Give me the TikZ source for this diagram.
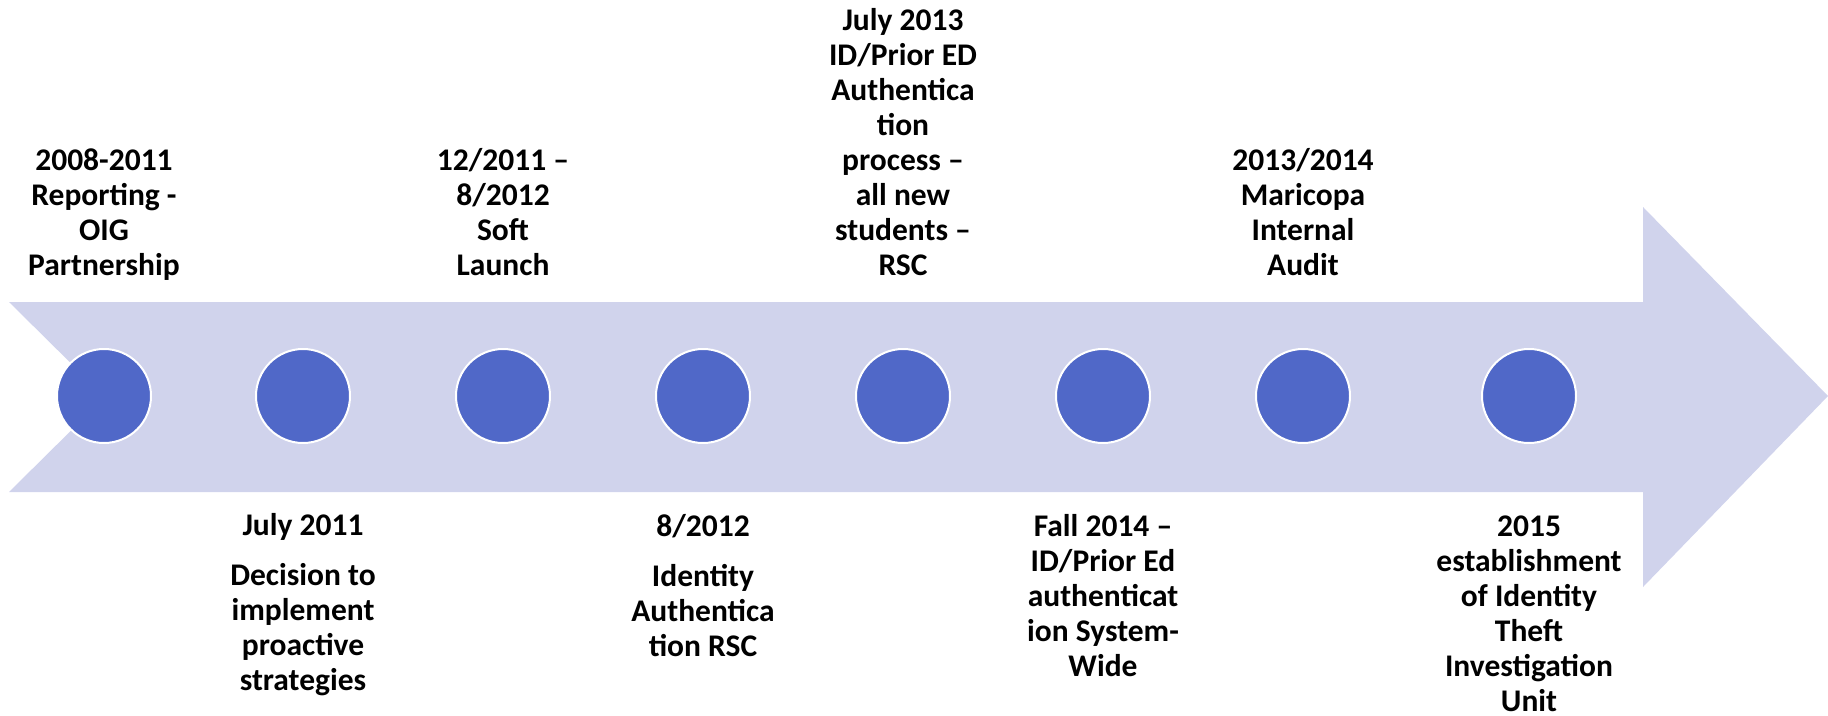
\documentclass[tikz,border=0pt]{standalone}
\usepackage{fontspec}
\setmainfont{Carlito}
\definecolor{bandcol}{RGB}{208,211,236}
\definecolor{dotcol}{RGB}{80,104,200}
\begin{document}
\begin{tikzpicture}[x=1pt,y=-1pt,
  dot/.style={circle,fill=dotcol,draw=white,line width=2pt,minimum size=94pt,inner sep=0pt},
  lbl/.style={align=center,inner sep=0pt,anchor=base,font=\fontsize{31.5}{35}\selectfont\bfseries}]
\useasboundingbox (0,0) rectangle (1828,715);
\fill[bandcol] (9,302) -- (1643,302) -- (1643,207) -- (1828,396) -- (1643,587) -- (1643,492) -- (9,492) -- (105,397) -- cycle;
\node[dot] (c1) at (104,396) {};
\node[dot] (c2) at (303,396) {};
\node[dot] (c3) at (503,396) {};
\node[dot] (c4) at (703,396) {};
\node[dot] (c5) at (903,396) {};
\node[dot] (c6) at (1103,396) {};
\node[dot] (c7) at (1303,396) {};
\node[dot] (c8) at (1529,396) {};
\node[lbl] (t1) at (104,275) {2008-2011\\Reporting -\\OIG\\Partnership};
\node[lbl] (t3) at (503,275) {12/2011 –\\8/2012\\Soft\\Launch};
\node[lbl] (t5) at (903,275) {July 2013\\ID/Prior ED\\Authentica\\tion\\process –\\all new\\students –\\RSC};
\node[lbl] (t7) at (1303,275) {2013/2014\\Maricopa\\Internal\\Audit};
\node[lbl] (t2) at (303,690) {July 2011\\[15pt]Decision to\\implement\\proactive\\strategies};
\node[lbl] (t4) at (703,656) {8/2012\\[15pt]Identity\\Authentica\\tion RSC};
\node[lbl] (t6) at (1103,676) {Fall 2014 –\\ID/Prior Ed\\authenticat\\ion System-\\Wide};
\node[lbl] (t8) at (1529,711) {2015\\establishment\\of Identity\\Theft\\Investigation\\Unit};
\end{tikzpicture}
\end{document}
